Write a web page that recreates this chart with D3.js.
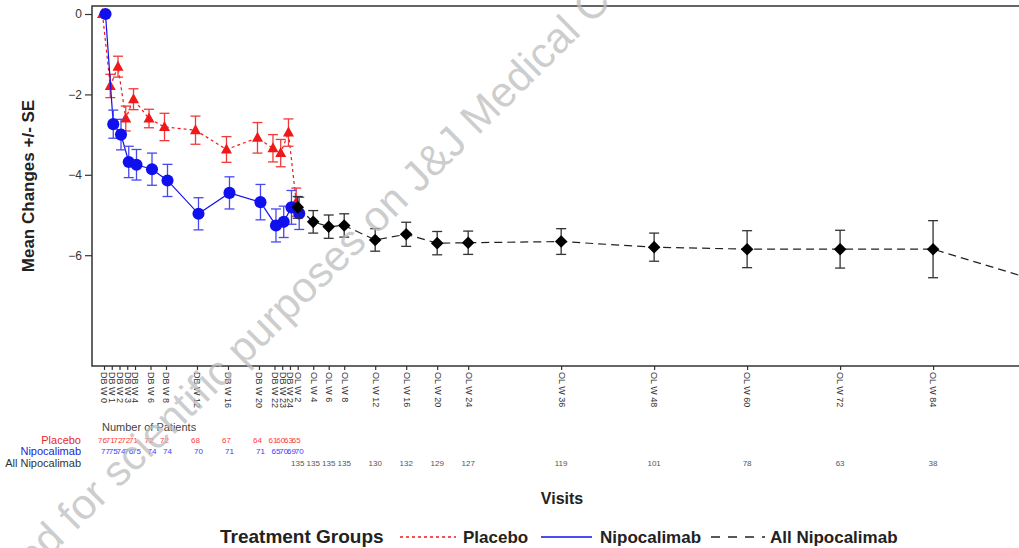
<!DOCTYPE html>
<html>
<head>
<meta charset="utf-8">
<script src="https://cdn.jsdelivr.net/npm/d3@7"></script>
<style>
  body { margin: 0; background: #fff; }
  svg { display: block; font-family: "Liberation Sans", Arial, sans-serif; }
</style>
</head>
<body>
<div id="chart"></div>
<script>
// visit labels and their study-week position on the x axis
var visitLabels = ['DB W 0','DB W 1','DB W 2','DB W 3','DB W 4','DB W 6','DB W 8','DB W 12','DB W 16','DB W 20',
  'DB W 22','DB W 23','DB W 24','OL W 2','OL W 4','OL W 6','OL W 8','OL W 12','OL W 16','OL W 20','OL W 24',
  'OL W 36','OL W 48','OL W 60','OL W 72','OL W 84','OL W 96'];
var visitWeeks = [0,1,2,3,4,6,8,12,16,20,22,23,24,25,27,29,31,35,39,43,47,59,71,83,95,107,119];

var yTicks = [0, -2, -4, -6];

// double-blind groups: DB W 0 .. OL W 2
var dbVisits = visitLabels.slice(0, 14);
var placeboMean = [0,-1.79,-1.31,-2.60,-2.12,-2.60,-2.81,-2.89,-3.37,-3.08,-3.34,-3.46,-2.95,-4.68];
var placeboSE   = [0,0.29,0.26,0.31,0.26,0.23,0.34,0.35,0.32,0.38,0.34,0.34,0.34,0.35];
var placeboN    = [76,71,72,72,71,72,72,68,67,64,61,60,63,65];

var nipoMean = [0,-2.74,-3.00,-3.68,-3.75,-3.86,-4.14,-4.97,-4.45,-4.68,-5.26,-5.17,-4.81,-4.96];
var nipoSE   = [0,0.35,0.38,0.39,0.38,0.40,0.40,0.40,0.40,0.44,0.41,0.39,0.42,0.40];
var nipoN    = [77,75,74,76,75,74,74,70,71,71,65,70,69,70];

// open-label, all nipocalimab: OL W 2 .. OL W 96
var olVisits = visitLabels.slice(13);
var allMean = [-4.81,-5.17,-5.29,-5.26,-5.62,-5.48,-5.70,-5.69,-5.66,-5.80,-5.85,-5.85,-5.85,-6.55];
var allSE   = [0.27,0.28,0.29,0.29,0.28,0.30,0.29,0.29,0.32,0.35,0.46,0.47,0.71,0.80];
var allN    = [135,135,135,135,130,132,129,127,119,101,78,63,38,null];

var W = 1019, H = 548;
var mLeft = 92, mTop = 6, mRight = 1040, mBottom = 366;

var svg = d3.select('#chart').append('svg')
  .attr('width', W)
  .attr('height', H);

var x = d3.scaleLinear().domain([-1.55, 120.8]).range([mLeft, mRight]);
var y = d3.scaleLinear().domain([-8.756, 0.199]).range([mBottom, mTop]);

var weekOf = {};
visitLabels.forEach(function(v, i){ weekOf[v] = visitWeeks[i]; });

function series(visits, mean, se, n){
  return visits.map(function(v, i){
    return {visit: v, week: weekOf[v], mean: mean[i], se: se[i], n: n[i]};
  });
}

var groups = [
  {name: 'Placebo', data: series(dbVisits, placeboMean, placeboSE, placeboN),
    color: '#f01818', bar: '#f03a3a', num: '#ff3a3a', label: '#e8282a', dash: '3,3', shift: -1.5, marker: 'triangle'},
  {name: 'Nipocalimab', data: series(dbVisits, nipoMean, nipoSE, nipoN),
    color: '#1010ee', bar: '#4848f0', num: '#3a3aff', label: '#2424d8', dash: null, shift: 1.5, marker: 'circle'},
  {name: 'All Nipocalimab', data: series(olVisits, allMean, allSE, allN),
    color: '#222', bar: '#333', num: '#555', label: '#333', dash: '8,5', shift: 0, marker: 'diamond'}
];

// frame
svg.append('rect')
  .attr('x', mLeft).attr('y', mTop)
  .attr('width', mRight - mLeft).attr('height', mBottom - mTop)
  .attr('fill', 'none')
  .attr('stroke', '#333')
  .attr('stroke-width', 1.5);

// y axis
var yAxis = svg.append('g')
  .attr('transform', 'translate(' + mLeft + ',0)')
  .call(d3.axisLeft(y).tickValues(yTicks).tickSize(7).tickPadding(3).tickFormat(d3.format('d')));
yAxis.select('.domain').remove();
yAxis.selectAll('line').attr('stroke', '#333').attr('stroke-width', 1.2);
yAxis.selectAll('text').attr('font-size', 12).attr('fill', '#333')
  .attr('font-family', '"Liberation Sans", Arial, sans-serif');

// x axis
var xAxis = svg.append('g')
  .attr('transform', 'translate(0,' + mBottom + ')')
  .call(d3.axisBottom(x).tickValues(visitWeeks).tickSize(4).tickFormat(function(d){
    return visitLabels[visitWeeks.indexOf(d)];
  }));
xAxis.select('.domain').remove();
xAxis.selectAll('line').attr('stroke', '#333').attr('stroke-width', 1.2);
xAxis.selectAll('text')
  .attr('font-size', 9)
  .attr('fill', '#333')
  .attr('font-family', '"Liberation Sans", Arial, sans-serif')
  .attr('text-anchor', 'start')
  .attr('transform', 'rotate(90)')
  .attr('x', 6)
  .attr('y', 0)
  .attr('dy', '0.35em');

// axis titles
svg.append('text')
  .attr('transform', 'translate(34,186) rotate(-90)')
  .attr('text-anchor', 'middle')
  .attr('font-size', 17)
  .attr('font-weight', 'bold')
  .attr('fill', '#222')
  .text('Mean Changes +/- SE');

svg.append('text')
  .attr('x', 562).attr('y', 504)
  .attr('text-anchor', 'middle')
  .attr('font-size', 16)
  .attr('font-weight', 'bold')
  .attr('fill', '#222')
  .text('Visits');

var px = function(g, d){ return x(d.week) + g.shift; };

function markerPath(type){
  if (type === 'triangle') return 'M0,-6L5.5,4L-5.5,4Z';
  if (type === 'diamond') return 'M0,-6.3L6.3,0L0,6.3L-6.3,0Z';
  return d3.symbol().type(d3.symbolCircle).size(115)();
}

groups.forEach(function(g){
  var layer = svg.append('g');

  layer.append('path')
    .datum(g.data)
    .attr('fill', 'none')
    .attr('stroke', g.color)
    .attr('stroke-width', 1.2)
    .attr('stroke-dasharray', g.dash)
    .attr('d', d3.line()
      .x(function(d){ return px(g, d); })
      .y(function(d){ return y(d.mean); }));

  var bars = layer.selectAll('g.bar')
    .data(g.data.filter(function(d){ return d.se > 0; }))
    .enter().append('g')
    .attr('stroke', g.bar)
    .attr('stroke-width', 1.3);
  bars.append('line')
    .attr('x1', function(d){ return px(g, d); })
    .attr('x2', function(d){ return px(g, d); })
    .attr('y1', function(d){ return y(d.mean + d.se); })
    .attr('y2', function(d){ return y(d.mean - d.se); });
  [1, -1].forEach(function(s){
    bars.append('line')
      .attr('x1', function(d){ return px(g, d) - 5; })
      .attr('x2', function(d){ return px(g, d) + 5; })
      .attr('y1', function(d){ return y(d.mean + s * d.se); })
      .attr('y2', function(d){ return y(d.mean + s * d.se); });
  });

  layer.selectAll('path.mark')
    .data(g.data)
    .enter().append('path')
    .attr('class', 'mark')
    .attr('d', markerPath(g.marker))
    .attr('transform', function(d){ return 'translate(' + px(g, d) + ',' + y(d.mean) + ')'; })
    .attr('fill', g.marker === 'diamond' ? '#000' : g.color);
});

// number of patients table
svg.append('text')
  .attr('x', 102).attr('y', 431)
  .attr('font-size', 11)
  .attr('fill', '#444')
  .text('Number of Patients');

var rowY = [444, 455, 467];
groups.forEach(function(g, i){
  svg.append('text')
    .attr('x', 81).attr('y', rowY[i])
    .attr('text-anchor', 'end')
    .attr('font-size', 11)
    .attr('fill', g.label)
    .text(g.name);
  svg.selectAll(null)
    .data(g.data.filter(function(d){ return d.n != null; }))
    .enter().append('text')
    .attr('x', function(d){ return px(g, d); })
    .attr('y', rowY[i] - 1)
    .attr('text-anchor', 'middle')
    .attr('font-size', 8)
    .attr('fill', g.num)
    .text(function(d){ return d.n; });
});

// legend
var lg = svg.append('g').attr('font-weight', 'bold').attr('fill', '#222');
lg.append('text').attr('x', 220).attr('y', 543).attr('font-size', 19).text('Treatment Groups');
var items = [
  {g: groups[0], x1: 400, x2: 456, tx: 463},
  {g: groups[1], x1: 541, x2: 592, tx: 600},
  {g: groups[2], x1: 711, x2: 765, tx: 770}
];
items.forEach(function(it){
  lg.append('line')
    .attr('x1', it.x1).attr('x2', it.x2)
    .attr('y1', 537).attr('y2', 537)
    .attr('stroke', it.g.color)
    .attr('stroke-width', 1.3)
    .attr('stroke-dasharray', it.g.name === 'All Nipocalimab' ? '9,8' : it.g.dash);
  lg.append('text').attr('x', it.tx).attr('y', 543).attr('font-size', 17).text(it.g.name);
});

// watermark
var wm = svg.append('g')
  .attr('transform', 'translate(75,532) rotate(-44.5)')
  .attr('font-size', 42.5)
  .attr('fill', '#bdbdbd')
  .attr('fill-opacity', 0.75);
wm.append('text').attr('x', -12).attr('text-anchor', 'end').text('Provided');
wm.append('text').attr('x', 0).text('for scientific purposes on J&J Medical Connect');
</script>
</body>
</html>
